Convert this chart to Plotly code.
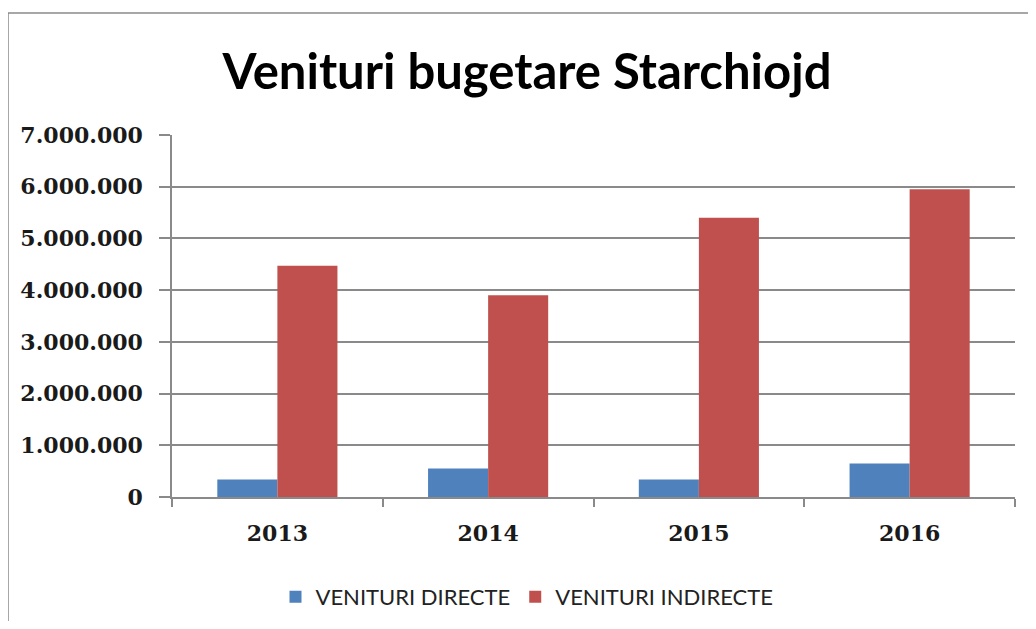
import plotly.graph_objects as go

years = ["2013", "2014", "2015", "2016"]
venituri_directe = [340000, 550000, 340000, 650000]
venituri_indirecte = [4470000, 3900000, 5400000, 5950000]
y_ticks = [0, 1000000, 2000000, 3000000, 4000000, 5000000, 6000000, 7000000]

OFF = 8  # default page body margin
W, H = 1036 - 2 * OFF, 629 - 2 * OFF
L, R, T, B = 172 - OFF, (W + OFF) - 1015, 135 - OFF, (H + OFF) - 497
pw, ph = W - L - R, H - T - B

fig = go.Figure()
fig.add_trace(go.Bar(x=years, y=venituri_directe, name="VENITURI DIRECTE",
                     marker=dict(color="#4F81BD", line=dict(width=0))))
fig.add_trace(go.Bar(x=years, y=venituri_indirecte, name="VENITURI INDIRECTE",
                     marker=dict(color="#C0504D", line=dict(width=0))))

def px_x(x):
    return (x - OFF - L) / pw

def px_y(y):
    return (H + OFF - B - y) / ph

fig.add_shape(type="rect", xref="paper", yref="paper",
              x0=px_x(8), x1=px_x(1080), y0=px_y(680), y1=px_y(13),
              line=dict(color="#8a8a8a", width=1.5), fillcolor="rgba(0,0,0,0)", layer="below")

fig.update_layout(
    width=W, height=H,
    margin=dict(l=L, r=R, t=T, b=B, autoexpand=False),
    paper_bgcolor="white", plot_bgcolor="white",
    separators=",.",
    barmode="group", bargap=0.43, bargroupgap=0,
    title=dict(text="<b>Venituri bugetare Starchiojd</b>", x=(527 - OFF) / W,
               xanchor="center", y=1 - (72 - OFF) / H, yanchor="middle",
               font=dict(family="Lato", size=49, color="black")),
    legend=dict(orientation="h", x=px_x(527), xanchor="center",
                y=px_y(597), yanchor="middle",
                font=dict(family="Lato", size=22, color="#222222"),
                itemwidth=30, traceorder="normal", tracegroupgap=0),
    showlegend=True,
)
fig.update_xaxes(
    type="category", showline=True, linecolor="#8a8a8a", linewidth=1.5,
    ticks="outside", tickson="boundaries", ticklen=8, tickcolor="#8a8a8a", tickwidth=1.5,
    ticklabelstandoff=16,
    tickfont=dict(family="DejaVu Serif", size=22, color="#1a1a1a", weight="bold"),
    showgrid=False, mirror=False,
)
fig.update_yaxes(
    range=[0, 7000000], tickvals=y_ticks, tickformat=",d",
    showline=True, linecolor="#8a8a8a", linewidth=1.5,
    ticks="outside", ticklen=11, tickcolor="#8a8a8a", tickwidth=1.5,
    ticklabelstandoff=12,
    showgrid=True, gridcolor="#8a8a8a", gridwidth=1.5, zeroline=False,
    tickfont=dict(family="DejaVu Serif", size=22, color="#1a1a1a", weight="bold"),
)

fig.write_html("out.html")
